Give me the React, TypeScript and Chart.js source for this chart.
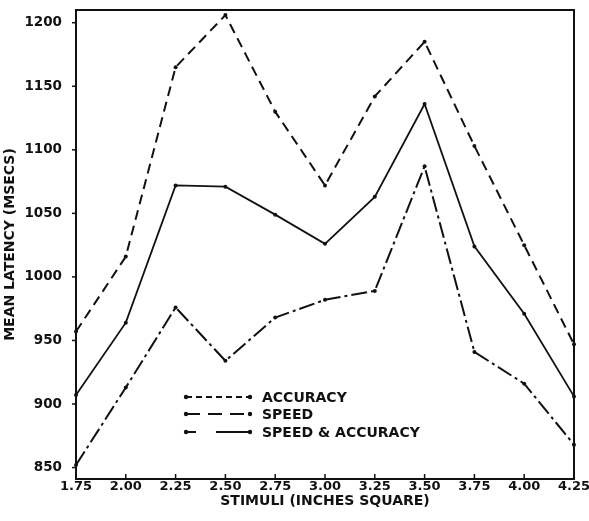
import React, { useEffect, useRef } from "react";
import { Chart, registerables } from "chart.js";

Chart.register(...registerables);

const xValues = [1.75, 2.0, 2.25, 2.5, 2.75, 3.0, 3.25, 3.5, 3.75, 4.0, 4.25];
const accuracy = [957, 1016, 1165, 1206, 1130, 1072, 1142, 1185, 1103, 1025, 947];
const speedAccuracy = [907, 964, 1072, 1071, 1049, 1026, 1063, 1136, 1024, 971, 906];
const speed = [852, 913, 976, 934, 968, 982, 989, 1087, 941, 916, 868];
const yTicks = [850, 900, 950, 1000, 1050, 1100, 1150, 1200];
const legendLabels = ["ACCURACY", "SPEED", "SPEED & ACCURACY"];

const FONT = "'DejaVu Sans', 'Liberation Sans', sans-serif";
const INK = "#111";

const framePlugin = {
  id: "frame",
  afterDraw(chart: any) {
    const { ctx, chartArea } = chart;
    const { left, right, top, bottom } = chartArea;
    const xs = chart.scales.x;
    const ys = chart.scales.y;
    ctx.save();
    ctx.strokeStyle = INK;
    ctx.lineWidth = 2;
    ctx.setLineDash([]);
    ctx.strokeRect(left, top, right - left, bottom - top);
    ctx.lineWidth = 1.5;
    xValues.forEach((v) => {
      const px = xs.getPixelForValue(v);
      ctx.beginPath();
      ctx.moveTo(px, bottom);
      ctx.lineTo(px, bottom - 5);
      ctx.stroke();
    });
    yTicks.forEach((v) => {
      const py = ys.getPixelForValue(v);
      ctx.beginPath();
      ctx.moveTo(left, py);
      ctx.lineTo(left - 4, py);
      ctx.stroke();
    });

    // legend
    const rows = [397, 414, 432];
    const dashes = [[6, 4], [14, 8], [10, 20, 40]];
    const x0 = 186;
    const x1 = 250;
    rows.forEach((y, i) => {
      ctx.lineWidth = 2;
      ctx.setLineDash(dashes[i]);
      ctx.beginPath();
      ctx.moveTo(x0, y);
      ctx.lineTo(x1, y);
      ctx.stroke();
      ctx.setLineDash([]);
      ctx.fillStyle = INK;
      [x0, x1].forEach((px) => {
        ctx.beginPath();
        ctx.arc(px, y, 2.2, 0, Math.PI * 2);
        ctx.fill();
      });
      ctx.font = `bold 14px ${FONT}`;
      ctx.textBaseline = "middle";
      ctx.textAlign = "left";
      ctx.fillText(legendLabels[i], 262, y + 1);
    });
    ctx.restore();
  },
};

export default function App() {
  const ref = useRef<HTMLCanvasElement>(null);
  useEffect(() => {
    if (!ref.current) return;
    const mk = (data: number[]) => data.map((y, i) => ({ x: xValues[i], y }));
    const common = {
      borderColor: INK,
      backgroundColor: INK,
      pointBackgroundColor: INK,
      pointBorderColor: INK,
      pointRadius: 2,
      pointBorderWidth: 0,
      borderWidth: 2,
      tension: 0,
      clip: false as any,
    };
    const chart = new Chart(ref.current, {
      type: "line",
      data: {
        datasets: [
          { ...common, label: legendLabels[0], data: mk(accuracy), borderDash: [10, 6] },
          { ...common, label: legendLabels[2], data: mk(speedAccuracy), borderWidth: 1.8 },
          { ...common, label: legendLabels[1], data: mk(speed), borderDash: [16, 4, 3, 4] },
        ],
      },
      options: {
        responsive: false,
        animation: false,
        layout: { padding: { top: 10, right: 15, left: 0, bottom: 0 } },
        plugins: { legend: { display: false }, tooltip: { enabled: false } },
        scales: {
          x: {
            type: "linear",
            min: 1.75,
            max: 4.25,
            afterBuildTicks: (s: any) => {
              s.ticks = xValues.map((v) => ({ value: v }));
            },
            afterFit: (s: any) => {
              s.height = 42;
              s.paddingLeft = 0;
              s.paddingRight = 0;
            },
            grid: { display: false, drawTicks: false },
            border: { display: false },
            ticks: {
              color: INK,
              padding: 0,
              maxRotation: 0,
              autoSkip: false,
              font: { family: FONT, size: 13, weight: "bold" },
              callback: (v: any) => Number(v).toFixed(2),
            },
            title: {
              display: true,
              text: "STIMULI (INCHES SQUARE)",
              color: INK,
              padding: { top: 2, bottom: 11 },
              font: { family: FONT, size: 14, weight: "bold" },
            },
          },
          y: {
            type: "linear",
            min: 841,
            max: 1210,
            afterBuildTicks: (s: any) => {
              s.ticks = yTicks.map((v) => ({ value: v }));
            },
            afterFit: (s: any) => {
              s.width = 76;
              s.paddingTop = 0;
              s.paddingBottom = 0;
            },
            grid: { display: false },
            border: { display: false },
            ticks: {
              color: INK,
              padding: 6,
              font: { family: FONT, size: 13.5, weight: "bold" },
              callback: (v: any) => String(v),
            },
            title: {
              display: true,
              text: "MEAN LATENCY (MSECS)",
              color: INK,
              padding: { top: 2, bottom: 0 },
              font: { family: FONT, size: 14, weight: "bold" },
            },
          },
        },
      },
      plugins: [framePlugin],
    });
    return () => chart.destroy();
  }, []);
  return (
    <div style={{ position: "absolute", left: 0, top: 0, width: 589, height: 521, background: "#fff" }}>
      <canvas ref={ref} width={589} height={521} style={{ display: "block" }} />
    </div>
  );
}
